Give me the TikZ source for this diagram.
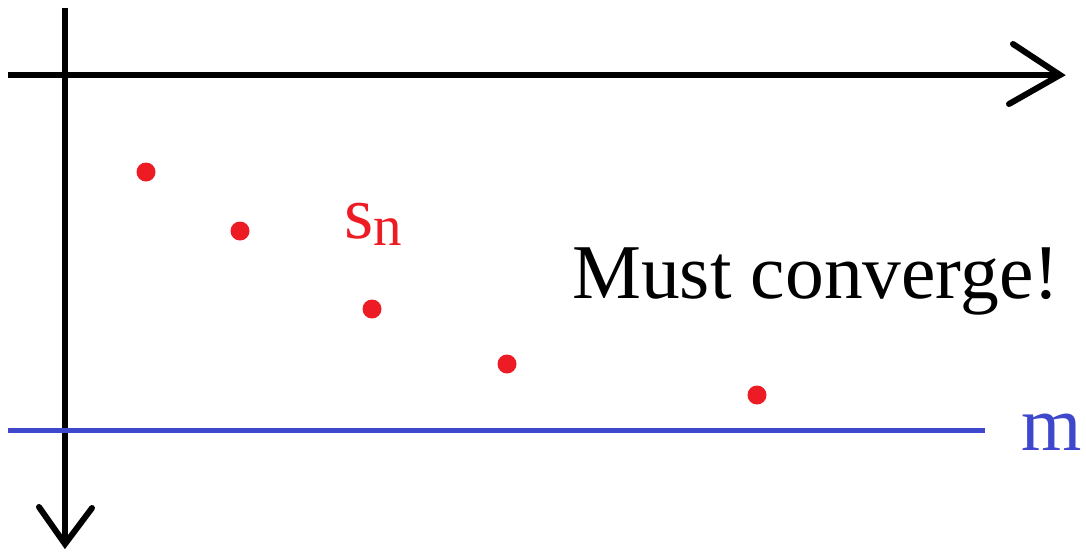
\documentclass[tikz,border=0pt]{standalone}
\usepackage{fontspec}
\setmainfont{Liberation Serif}
\definecolor{paintred}{RGB}{237,28,36}
\definecolor{paintblue}{RGB}{63,72,204}
\begin{document}
\begin{tikzpicture}[x=1pt,y=-1pt,
  axis/.style={line width=6pt,black},
  chev/.style={line width=6pt,black,line cap=round,line join=miter},
  dot/.style={circle,fill=paintred,inner sep=0pt,minimum size=19pt},
  bigtext/.style={inner sep=0pt,anchor=base west,font=\fontsize{77.5}{80}\selectfont}]
\useasboundingbox (0,0) rectangle (1086,552);
% axes
\coordinate (hs) at (8,75);
\coordinate (he) at (1060,75);
\coordinate (vs) at (65,8);
\coordinate (ve) at (65,544);
\draw[axis] (hs) -- (he);
\draw[axis] (vs) -- (ve);
\coordinate (ha1) at (1013,44);
\coordinate (ha2) at (1009,104);
\draw[chev] (ha1) -- (he) -- (ha2);
\coordinate (va1) at (39,507);
\coordinate (va2) at (92,508);
\draw[chev] (va1) -- (ve) -- (va2);
% blue bound
\coordinate (bs) at (8,430);
\coordinate (be) at (985,430);
\draw[line width=5pt,paintblue] (bs) -- (be);
\node[bigtext,text=paintblue] (m) at (1021,450) {m};
% points
\node[dot] (p1) at (146,172) {};
\node[dot] (p2) at (240,231) {};
\node[dot] (p3) at (372,309) {};
\node[dot] (p4) at (507,364) {};
\node[dot] (p5) at (757,395) {};
\node[inner sep=0pt,anchor=base west,text=paintred,font=\fontsize{75}{78}\selectfont] (sn) at (344,238) {s\raisebox{-7pt}{\fontsize{57}{60}\selectfont n}};
\node[bigtext] (msg) at (572,298) {Must converge!};
\end{tikzpicture}
\end{document}
